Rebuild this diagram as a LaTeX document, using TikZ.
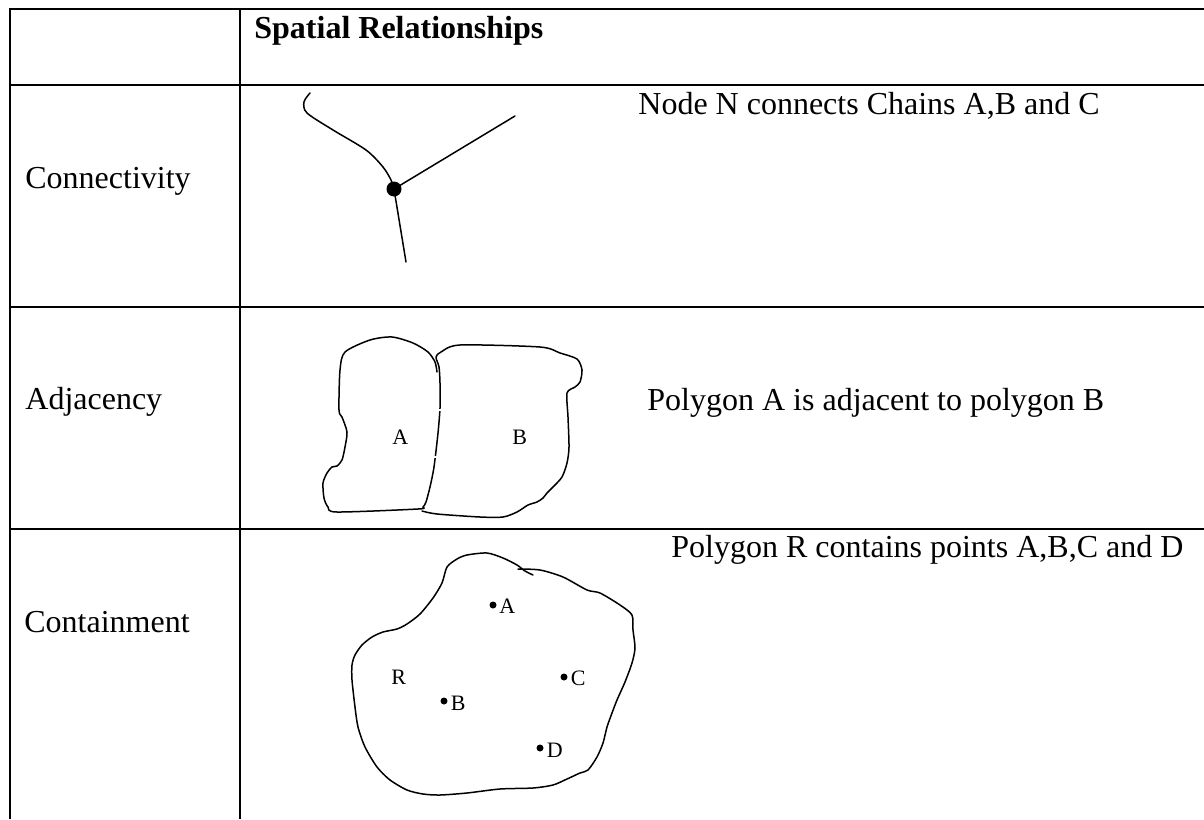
\documentclass[tikz,border=0pt]{standalone}
\usepackage{fontspec}
\setmainfont{Liberation Serif}
\begin{document}
\begin{tikzpicture}[x=0.5pt,y=-0.5pt]
\tikzset{
  rule/.style={line width=1pt},
  txt/.style={inner sep=0pt, anchor=base west, font=\fontsize{16}{19}\selectfont},
  lbl/.style={inner sep=0pt, anchor=base west, font=\fontsize{11}{13}\selectfont},
  sketch/.style={line width=0.75pt, line join=round, line cap=round},
  gapmark/.style={white, line width=1.3pt},
  nodedot/.style={circle, fill=black, inner sep=0pt, minimum size=7.5pt},
  ptdot/.style={circle, fill=black, inner sep=0pt, minimum size=3.5pt}
}
\useasboundingbox (0,0) rectangle (1204,819);
% table rules
\draw[rule] (1204,9) -- (10,9) -- (10,819);
\draw[rule] (240,9) -- (240,819);
\draw[rule] (10,85) -- (1204,85);
\draw[rule] (10,307) -- (1204,307);
\draw[rule] (10,529) -- (1204,529);
% texts
\node[txt, font=\fontsize{16}{19}\selectfont\bfseries] (hdr) at (254,39) {Spatial Relationships};
\node[txt] (conn) at (25,188) {Connectivity};
\node[txt] (adj) at (25,409) {Adjacency};
\node[txt] (cont) at (24,632) {Containment};
\node[txt] (t1) at (638,114) {Node N connects Chains A,B and C};
\node[txt] (t2) at (647,410) {Polygon A is adjacent to polygon B};
\node[txt] (t3) at (671,557) {Polygon R contains points A,B,C and D};
% connectivity
\coordinate (cB) at (515,116);
\coordinate (cC) at (406,262);
\draw[sketch] plot[smooth] coordinates {(310,93) (304,102) (307,113) (333,130) (366,150) (383,167) (391,180) (394,189)};
\node[nodedot] (N) at (394,189) {};
\draw[sketch] (N.center) -- (cB);
\draw[sketch] (N.center) -- (cC);
% adjacency
\draw[sketch] plot[smooth, tension=0.45] coordinates {(437,372) (435,362) (428,352) (413,343) (392,337) (370,340) (345,352) (340,370) (339,410) (342,417) (347,432) (345,447) (342,460) (337,466) (332,467) (327,473) (323,483) (324,498) (328,507) (337,512) (418,509) (423,507) (426,502) (430,487) (434,467) (438,433) (440,408) (440,383) (439,367) (436,357) (441,352) (460,345) (540,347) (560,353) (577,359) (582,370) (580,382) (575,387) (567,393) (568,417) (569,447) (567,463) (562,477) (553,487) (547,493) (543,498) (537,502) (528,505) (517,512) (503,517) (480,517) (437,514) (422,511)};
\draw[gapmark] (436,410) -- (444,410);
\draw[gapmark] (432,457) -- (440,457);
\node[lbl] (lA) at (392,444) {A};
\node[lbl] (lB) at (512,444) {B};
% containment
\draw[sketch] plot[smooth, tension=0.45] coordinates {(518,569) (540,570) (563,577) (587,590) (600,593) (620,605) (632,615) (633,630) (635,648) (632,663) (625,682) (617,700) (612,713) (607,727) (603,743) (597,757) (588,770) (580,773) (567,779) (553,785) (533,788) (500,789) (467,793) (440,795) (423,794) (407,790) (390,780) (377,767) (365,747) (358,727) (355,707) (352,680) (352,665) (355,655) (362,645) (372,637) (383,632) (397,629) (407,624) (420,614) (433,598) (442,583) (447,567) (457,559) (467,555) (487,553) (503,558) (517,565) (525,571) (533,575)};
\node[lbl] (lR) at (391,684) {R};
\node[ptdot] (pA) at (493,605) {};
\node[ptdot] (pB) at (444,701) {};
\node[ptdot] (pC) at (564,677) {};
\node[ptdot] (pD) at (540,748) {};
\node[lbl] (qA) at (499,613) {A};
\node[lbl] (qB) at (450.5,710) {B};
\node[lbl] (qC) at (570.5,685) {C};
\node[lbl] (qD) at (546.5,757) {D};
\end{tikzpicture}
\end{document}
